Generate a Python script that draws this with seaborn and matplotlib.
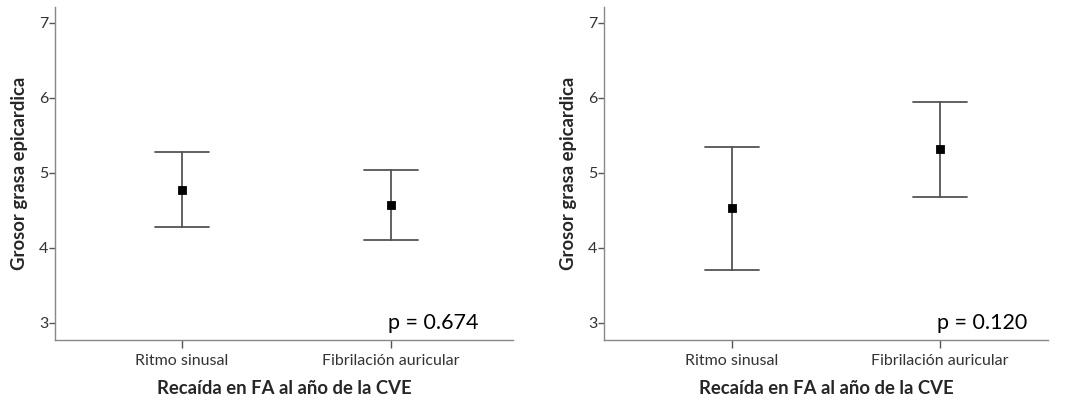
import pandas as pd
import numpy as np
import matplotlib
matplotlib.use("Agg")
import matplotlib.pyplot as plt
import seaborn as sns

# Group labels and values (mean with 95% CI)
categories = ["Ritmo sinusal", "Fibrilación auricular"]

left_mean = [4.77, 4.57]
left_lower = [4.28, 4.11]
left_upper = [5.28, 5.04]

right_mean = [4.53, 5.32]
right_lower = [3.71, 4.68]
right_upper = [5.35, 5.95]

p_values = ["p = 0.674", "p = 0.120"]
y_ticks = [3, 4, 5, 6, 7]

x_label = "Recaída en FA al año de la CVE"
y_label = "Grosor grasa epicardica"


# Build a long table: lower, mean, upper per group, so median = mean and min/max = CI
def build_frame(mean, lower, upper):
    rows = []
    for cat, m, lo, hi in zip(categories, mean, lower, upper):
        for v in (lo, m, hi):
            rows.append({"grupo": cat, "valor": v})
    return pd.DataFrame(rows)


def draw_panel(ax, df, ptext, px, xlim):
    sns.pointplot(data=df, x="grupo", y="valor", order=categories,
                  estimator="median", errorbar=("pi", 100),
                  linestyle="none", marker="s", markersize=4.5,
                  color="black", capsize=0.26,
                  err_kws={"color": "#555555", "linewidth": 1.3}, ax=ax)
    # keep the square marker above the error line
    for ln in ax.lines:
        if ln.get_marker() == "s":
            ln.set_zorder(5)
    ax.set_ylim(2.77, 7.21)
    ax.set_xlim(*xlim)
    ax.set_yticks(y_ticks)
    ax.set_yticklabels([str(t) for t in y_ticks])
    ax.set_xlabel(x_label, fontsize=13.3, fontweight="bold", labelpad=9)
    ax.set_ylabel(y_label, fontsize=13.3, fontweight="bold", labelpad=8)
    ax.tick_params(axis="both", labelsize=11.5, colors="#333333",
                   length=5, width=1, direction="out", bottom=True, left=True)
    ax.tick_params(axis="x", length=6, pad=4, color="#555555")
    ax.tick_params(axis="y", length=4, pad=1, color="#555555")
    for side in ["top", "right"]:
        ax.spines[side].set_visible(False)
    for side in ["left", "bottom"]:
        ax.spines[side].set_color("#888888")
        ax.spines[side].set_linewidth(1.0)
    ax.text(px, 0.02, ptext, transform=ax.transAxes, fontsize=15.5,
            color="black", ha="left", va="bottom")


sns.set_style("white")
plt.rcParams["font.family"] = ["Lato", "DejaVu Sans"]

fig = plt.figure(figsize=(10.75, 4.01), dpi=100)
ax1 = fig.add_axes([0.0512, 0.152, 0.426, 0.830])
ax2 = fig.add_axes([0.5619, 0.152, 0.413, 0.830])

draw_panel(ax1, build_frame(left_mean, left_lower, left_upper), p_values[0], 0.727, (-0.606, 1.582))
draw_panel(ax2, build_frame(right_mean, right_lower, right_upper), p_values[1], 0.75, (-0.615, 1.52))

fig.savefig("out.png", dpi=100, facecolor="white")
